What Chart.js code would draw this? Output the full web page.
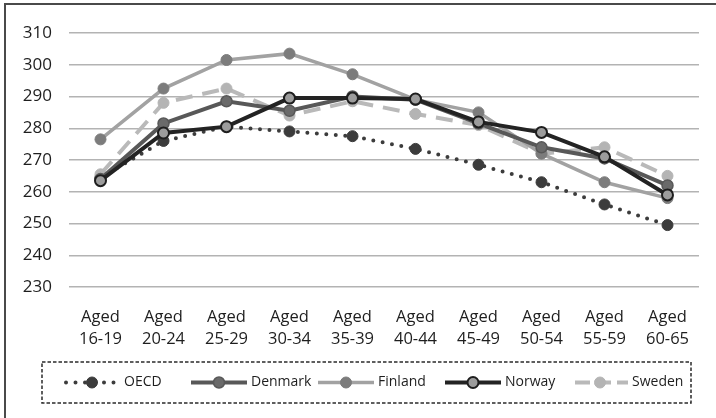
<!DOCTYPE html>
<html>
<head>
<meta charset="utf-8">
<script src="https://cdn.jsdelivr.net/npm/chart.js@4"></script>
<style>
  html, body { margin: 0; padding: 0; background: #fff; }
  #wrap { position: relative; width: 716px; height: 418px; overflow: hidden; }
  #frame { position: absolute; left: 4px; top: 3px; width: 730px; height: 440px;
           border-left: 2px solid #4a4a4a; border-top: 2px solid #4a4a4a; }
  canvas { position: absolute; left: 0; top: 0; }
</style>
</head>
<body>
<div id="wrap">
  <div id="frame"></div>
  <canvas id="c" width="716" height="418"></canvas>
</div>
<script>
// Age groups on the x axis (two-line labels)
const ageGroups = [
  ['Aged', '16-19'], ['Aged', '20-24'], ['Aged', '25-29'], ['Aged', '30-34'], ['Aged', '35-39'],
  ['Aged', '40-44'], ['Aged', '45-49'], ['Aged', '50-54'], ['Aged', '55-59'], ['Aged', '60-65']
];

// Mean scores by age group
const oecd    = [264.5, 276.0, 280.5, 279.0, 277.5, 273.5, 268.5, 263.0, 256.0, 249.5];
const denmark = [264.0, 281.5, 288.5, 285.5, 290.0, 289.0, 281.5, 274.0, 270.5, 262.0];
const finland = [276.5, 292.5, 301.5, 303.5, 297.0, 289.0, 285.0, 272.0, 263.0, 258.0];
const norway  = [263.5, 278.5, 280.5, 289.5, 289.5, 289.2, 282.0, 278.7, 271.0, 259.0];
const sweden  = [265.5, 288.0, 292.5, 284.0, 288.5, 284.5, 281.0, 272.0, 274.0, 265.0];

// Y axis range and step
const yMin = 230, yMax = 310, yStep = 10;

const FONT = '"Open Sans", "DejaVu Sans", sans-serif';

const datasets = [
  { label: 'OECD', data: oecd, order: 4,
    borderColor: '#3c3c3c', borderWidth: 4, borderDash: [0, 9.5], borderCapStyle: 'round',
    pointRadius: 5.5, pointBackgroundColor: '#3c3c3c', pointBorderColor: '#3c3c3c', pointBorderWidth: 1 },
  { label: 'Denmark', data: denmark, order: 1,
    borderColor: '#585858', borderWidth: 4,
    pointRadius: 5.5, pointBackgroundColor: '#6a6a6a', pointBorderColor: '#585858', pointBorderWidth: 1.5 },
  { label: 'Finland', data: finland, order: 2,
    borderColor: '#a2a2a2', borderWidth: 3.5,
    pointRadius: 5.5, pointBackgroundColor: '#7c7c7c', pointBorderColor: '#7c7c7c', pointBorderWidth: 1 },
  { label: 'Norway', data: norway, order: 0,
    borderColor: '#232323', borderWidth: 4,
    pointRadius: 5.5, pointBackgroundColor: '#9c9c9c', pointBorderColor: '#1e1e1e', pointBorderWidth: 2 },
  { label: 'Sweden', data: sweden, order: 3,
    borderColor: '#b9b9b9', borderWidth: 4, borderDash: [17, 10],
    pointRadius: 5.5, pointBackgroundColor: '#b4b4b4', pointBorderColor: '#b4b4b4', pointBorderWidth: 1 }
];
datasets.forEach(d => { d.fill = false; d.tension = 0; d.pointHoverRadius = d.pointRadius; });

// Legend drawn in a dashed box below the plot
const legendBox = {
  id: 'legendBox',
  afterDraw(chart) {
    const ctx = chart.ctx;
    const box = { x: 42, y: 362, w: 649, h: 41 };
    ctx.save();
    ctx.strokeStyle = '#2a2a2a';
    ctx.lineWidth = 1.5;
    ctx.setLineDash([3.5, 2]);
    ctx.strokeRect(box.x, box.y, box.w, box.h);

    const cy = box.y + box.h / 2;
    const entryW = 127, sampleW = 56, startX = 64;
    chart.data.datasets.forEach((ds, i) => {
      const x0 = startX + i * entryW;
      // line sample
      ctx.beginPath();
      ctx.setLineDash(ds.borderDash || []);
      ctx.lineCap = ds.borderCapStyle || 'butt';
      ctx.strokeStyle = ds.borderColor;
      ctx.lineWidth = ds.borderWidth;
      if (ds.borderDash && ds.borderDash[0] === 0) {
        ctx.moveTo(x0 + 2, cy); ctx.lineTo(x0 + sampleW, cy);
      } else if (ds.borderDash) {
        ctx.setLineDash([15, 6]);
        ctx.lineDashOffset = -3;
        ctx.moveTo(x0, cy); ctx.lineTo(x0 + sampleW, cy);
      } else {
        ctx.moveTo(x0, cy); ctx.lineTo(x0 + sampleW, cy);
      }
      ctx.stroke();
      ctx.lineDashOffset = 0;
      // marker
      ctx.setLineDash([]);
      ctx.beginPath();
      ctx.arc(x0 + sampleW / 2, cy, ds.pointRadius, 0, Math.PI * 2);
      ctx.fillStyle = ds.pointBackgroundColor;
      ctx.fill();
      ctx.lineWidth = ds.pointBorderWidth;
      ctx.strokeStyle = ds.pointBorderColor;
      ctx.stroke();
      // text
      ctx.fillStyle = '#1e1e1e';
      ctx.font = '14px ' + FONT;
      ctx.textBaseline = 'middle';
      ctx.textAlign = 'left';
      ctx.fillText(ds.label, x0 + sampleW + 4, cy);
    });
    ctx.restore();
  }
};

new Chart(document.getElementById('c'), {
  type: 'line',
  data: { labels: ageGroups, datasets },
  plugins: [legendBox],
  options: {
    responsive: false,
    devicePixelRatio: 1,
    animation: false,
    layout: { padding: { left: 0, right: 17, top: 33, bottom: 0 } },
    plugins: { legend: { display: false }, tooltip: { enabled: false } },
    scales: {
      x: {
        offset: true,
        grid: { display: false },
        border: { display: false },
        ticks: {
          color: '#1e1e1e', padding: 11, maxRotation: 0, autoSkip: false,
          font: { family: FONT, size: 16.5, lineHeight: 1.33 }
        },
        afterFit(scale) { scale.height = 131; }
      },
      y: {
        min: yMin, max: yMax,
        grid: { color: '#b3b3b3', lineWidth: 1.5, drawTicks: false },
        border: { display: false },
        ticks: {
          stepSize: yStep, color: '#1e1e1e', padding: 17,
          font: { family: FONT, size: 17 }
        },
        afterFit(scale) { scale.width = 69; }
      }
    }
  }
});
</script>
</body>
</html>
